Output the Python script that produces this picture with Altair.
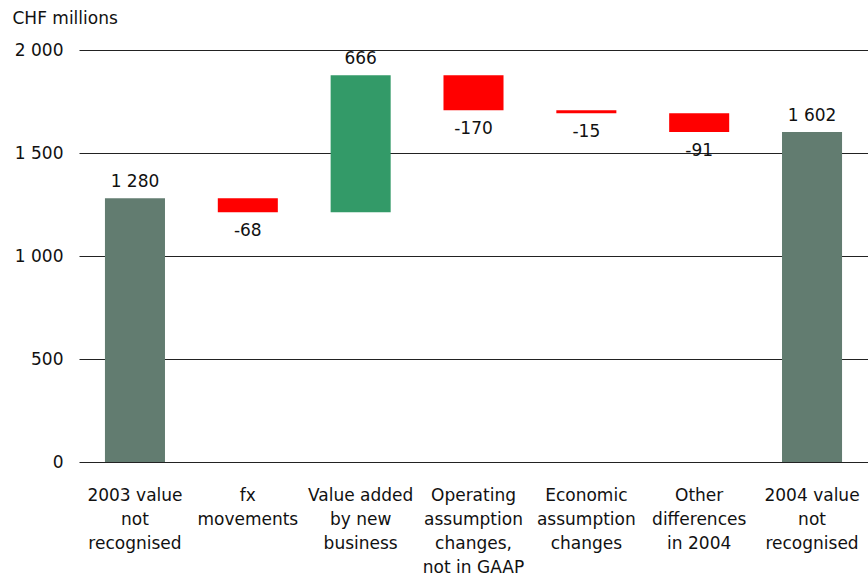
import altair as alt
import pandas as pd

# Reconciliation of embedded value not recognised, CHF millions
categories = [
    "2003 value\nnot\nrecognised",
    "fx\nmovements",
    "Value added\nby new\nbusiness",
    "Operating\nassumption\nchanges,\nnot in GAAP",
    "Economic\nassumption\nchanges",
    "Other\ndifferences\nin 2004",
    "2004 value\nnot\nrecognised",
]
amounts = [1280, -68, 666, -170, -15, -91, 1602]
kinds = ["total", "delta", "delta", "delta", "delta", "delta", "total"]

rows = []
running = 0
for cat, amt, kind in zip(categories, amounts, kinds):
    if kind == "total":
        start, end = 0, amt
        running = amt
    else:
        start, end = running, running + amt
        running = end
    if kind == "total":
        colour_key = "total"
    elif amt >= 0:
        colour_key = "increase"
    else:
        colour_key = "decrease"
    rows.append({
        "category": cat,
        "start": start,
        "end": end,
        "top": max(start, end),
        "bottom": min(start, end),
        "amount": amt,
        "key": colour_key,
        "label": f"{amt:,}".replace(",", " "),
        "positive": amt >= 0,
    })
df = pd.DataFrame(rows)

font = "DejaVu Sans"
ink = "#111111"

x_enc = alt.X(
    "category:N",
    sort=categories,
    scale=alt.Scale(paddingInner=0.468, paddingOuter=0.23),
    axis=alt.Axis(
        title=None,
        labelAngle=0,
        labelExpr="split(datum.label, '\\n')",
        labelFont=font,
        labelColor=ink,
        labelFontSize=17,
        labelLineHeight=24,
        labelPadding=25,
        labelBaseline="top",
        domain=False,
        ticks=False,
        grid=False,
    ),
)

y_scale = alt.Scale(domain=[0, 2000], nice=False)

bars = alt.Chart(df).mark_bar().encode(
    x=x_enc,
    y=alt.Y(
        "start:Q",
        scale=y_scale,
        axis=alt.Axis(
            title="CHF millions",
            titleAngle=0,
            titleAlign="left",
            titleBaseline="middle",
            titleX=-67,
            titleY=-32,
            titleFont=font,
            titleColor=ink,
            titleFontSize=17,
            titleFontWeight="normal",
            values=[0, 500, 1000, 1500, 2000],
            labelExpr="replace(format(datum.value, ','), ',', ' ')",
            labelFont=font,
            labelColor=ink,
            labelFontSize=17,
            labelPadding=16,
            domain=False,
            ticks=False,
            grid=True,
            gridColor="#222222",
            gridWidth=1,
        ),
    ),
    y2="end:Q",
    color=alt.Color(
        "key:N",
        scale=alt.Scale(
            domain=["total", "increase", "decrease"],
            range=["#627c70", "#339a68", "#ff0000"],
        ),
        legend=None,
    ),
)

up_labels = alt.Chart(df).transform_filter("datum.positive").mark_text(
    baseline="bottom", dy=-7, font=font, fontSize=17, color=ink
).encode(
    x=alt.X("category:N", sort=categories),
    y=alt.Y("top:Q", scale=y_scale),
    text="label:N",
)

down_labels = alt.Chart(df).transform_filter("!datum.positive").mark_text(
    baseline="top", dy=11, font=font, fontSize=17, color=ink
).encode(
    x=alt.X("category:N", sort=categories),
    y=alt.Y("bottom:Q", scale=y_scale),
    text="label:N",
)

chart = alt.layer(bars, up_labels, down_labels).properties(
    width=789,
    height=412,
    background="white",
    autosize=alt.AutoSizeParams(type="none"),
    padding={"left": 79, "top": 50, "right": 0, "bottom": 116},
).configure_axis(
    domain=False,
    ticks=False,
    labelFont=font,
    titleFont=font,
).configure_axisX(
    grid=False
).configure_view(
    strokeWidth=0
)

chart.save("out.html", embed_options={"renderer": "svg", "actions": False})
